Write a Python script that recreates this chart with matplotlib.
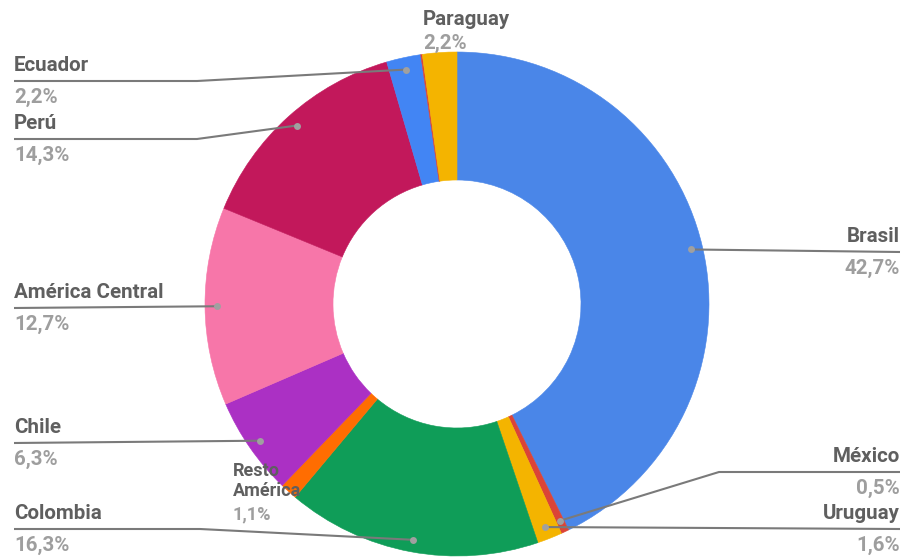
import numpy as np
import matplotlib
matplotlib.use("Agg")
import matplotlib.pyplot as plt

names = ["Brasil", "México", "Uruguay", "Colombia", "Resto\nAmérica", "Chile",
         "América Central", "Perú", "Ecuador", "", "Paraguay"]
values = [42.7, 0.5, 1.6, 16.3, 1.1, 6.3, 12.7, 14.3, 2.2, 0.1, 2.2]
pct_labels = ["42,7%", "0,5%", "1,6%", "16,3%", "1,1%", "6,3%", "12,7%", "14,3%", "2,2%", "", "2,2%"]
colors = ["#4a86e8", "#db4437", "#f4b400", "#0f9d58", "#ff6d01", "#ab30c4",
          "#f776a9", "#c2185b", "#4285f4", "#db4437", "#f4b400"]

W, H = 904, 557
fig = plt.figure(figsize=(W / 100, H / 100), dpi=100)
ax = fig.add_axes([0, 0, 1, 1])
ax.set_xlim(0, W)
ax.set_ylim(0, H)
ax.set_aspect("equal")
ax.axis("off")

def Y(py):
    return H - py

cx, cy, R, r_in = 457, Y(304), 252, 124
wedges, _ = ax.pie(values, colors=colors, startangle=90, counterclock=False,
                   center=(cx, cy), radius=R, frame=True,
                   wedgeprops=dict(width=R - r_in, linewidth=0.4, edgecolor=None))
for w, c in zip(wedges, colors):
    w.set_edgecolor(c)
ax.set_xlim(0, W)
ax.set_ylim(0, H)
ax.axis("off")

FONT = "Roboto"
name_col = "#5f5f5f"
pct_col = "#9e9e9e"
line_col = "#7a7a7a"
FS = 14.8

total = sum(values)
cum = np.cumsum([0] + values[:-1])
def dot(i, frac=0.952):
    mid = (cum[i] + values[i] / 2) / total * 360.0
    a = np.deg2rad(90 - mid)
    return cx + R * frac * np.cos(a), cy + R * frac * np.sin(a)

layout = {
    0: ("right", 252, None),
    1: ("right", 472, 719),
    2: ("right", 529, None),
    3: ("left", 529, 200),
    5: ("left", 443, None),
    6: ("left", 308, None),
    7: ("left", 139, 197),
    8: ("left", 81, 197),
}

for i, (side, ly, ex) in layout.items():
    dx, dy = dot(i)
    xe = 900 if side == "right" else 14
    xs = [dx, ex, xe] if ex else [dx, xe]
    ys = [dy, Y(ly), Y(ly)] if ex else [dy, Y(ly)]
    tx, ha = (900, "right") if side == "right" else (14, "left")
    ax.plot(xs, ys, color=line_col, lw=1.5, zorder=3, solid_capstyle="butt")
    ax.plot([dx], [dy], "o", color="#a0a0a0", ms=5, zorder=4, mec="none")
    ax.text(tx, Y(ly - 15.5), names[i], ha=ha, va="center", fontsize=FS,
            fontweight="bold", color=name_col, family=FONT, zorder=5)
    ax.text(tx, Y(ly + 16), pct_labels[i], ha=ha, va="center", fontsize=FS,
            fontweight="bold", color=pct_col, family=FONT, zorder=5)

ax.text(423, Y(19), names[10], ha="left", va="center", fontsize=FS,
        fontweight="bold", color=name_col, family=FONT, zorder=5)
ax.text(423, Y(43), pct_labels[10], ha="left", va="center", fontsize=FS,
        fontweight="bold", color=pct_col, family=FONT, zorder=5)

ax.text(233, Y(481), names[4], ha="left", va="center", fontsize=13,
        fontweight="bold", color=name_col, family=FONT, zorder=5,
        linespacing=1.2)
ax.text(233, Y(514), pct_labels[4], ha="left", va="center", fontsize=13,
        fontweight="bold", color=pct_col, family=FONT, zorder=5)

fig.savefig("out.png", dpi=100)
